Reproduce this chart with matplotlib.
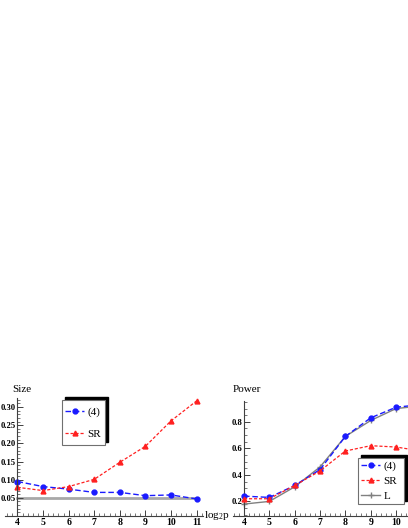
import matplotlib
matplotlib.use('Agg')
from matplotlib import pyplot as plt
from matplotlib.patches import Rectangle
from matplotlib.ticker import MultipleLocator, FixedLocator
import numpy as np

plt.rcParams['font.family'] = ['Liberation Serif', 'DejaVu Serif']
plt.rcParams['mathtext.fontset'] = 'custom'
plt.rcParams['mathtext.rm'] = 'Liberation Serif'
plt.rcParams['mathtext.it'] = 'Liberation Serif:italic'

log2p = [4, 5, 6, 7, 8, 9, 10, 11]

size_4 = [0.095, 0.081, 0.074, 0.065, 0.065, 0.056, 0.058, 0.047]
size_sr = [0.079, 0.070, 0.081, 0.101, 0.148, 0.192, 0.262, 0.317]
nominal = 0.05
size_ticks = [0.05, 0.10, 0.15, 0.20, 0.25, 0.30]

power_4 = [0.24, 0.23, 0.32, 0.44, 0.69, 0.83, 0.91, 0.93]
power_sr = [0.22, 0.22, 0.32, 0.43, 0.58, 0.62, 0.61, 0.58]
power_l = [0.18, 0.20, 0.31, 0.46, 0.69, 0.81, 0.90, 0.92]
power_ticks = [0.2, 0.4, 0.6, 0.8]
power_xticks = [4, 5, 6, 7, 8, 9, 10]  # 11 falls off the cropped figure

W, H = 408, 528

def px(x0, y_top, x1, y_bot):
    # pixel box (from top-left) -> figure fraction rect
    return [x0 / W, (H - y_bot) / H, (x1 - x0) / W, (y_bot - y_top) / H]

fig = plt.figure(figsize=(W / 100, H / 100), dpi=100)

BLUE = '#1a1aff'
RED = '#ff2020'
GRAY = '#808080'
AX = '#404040'

def style(ax, xticks, yticks, yminor, yfmt):
    for s in ['top', 'right']:
        ax.spines[s].set_visible(False)
    ax.spines['left'].set_position(('data', 4))
    ax.spines['left'].set_color(AX)
    ax.spines['bottom'].set_color(AX)
    ax.spines['left'].set_linewidth(0.8)
    ax.spines['bottom'].set_linewidth(0.8)
    ax.set_xticks(xticks)
    ax.xaxis.set_minor_locator(MultipleLocator(0.2))
    ax.yaxis.set_major_locator(FixedLocator(yticks))
    ax.yaxis.set_minor_locator(MultipleLocator(yminor))
    ax.yaxis.set_major_formatter(plt.FormatStrFormatter(yfmt))
    ax.tick_params(which='major', direction='in', length=4, width=0.7, color=AX, pad=1.5)
    ax.tick_params(which='minor', direction='in', length=2, width=0.5, color=AX)
    ax.tick_params(axis='x', labelsize=7)
    ax.tick_params(axis='y', labelsize=6.2, pad=1)
    for t in ax.get_xticklabels() + ax.get_yticklabels():
        t.set_fontweight('bold')
    ax.patch.set_alpha(0)

def legend_box(x0, y_top, x1, y_bot):
    sh = 3
    fig.patches.append(Rectangle(((x0 + sh) / W, (H - y_bot + sh) / H), (x1 - x0) / W, (y_bot - y_top) / H,
                                 transform=fig.transFigure, facecolor='black', edgecolor='black', zorder=5))
    fig.patches.append(Rectangle((x0 / W, (H - y_bot) / H), (x1 - x0) / W, (y_bot - y_top) / H,
                                 transform=fig.transFigure, facecolor='white', edgecolor='#707070', lw=0.8, zorder=6))

# ***** Size *****
ax1 = fig.add_axes(px(4.7, 398, 203, 516))
ax1.set_xlim(3.5, 11.25)
ax1.set_ylim(0, 0.325)
ax1.plot([4, 11], [nominal, nominal], color='#a8a8a8', lw=2, zorder=1)
l1, = ax1.plot(log2p, size_4, '--o', color=BLUE, lw=1.0, ms=3.5, dashes=(4, 2), label='(4)')
l2, = ax1.plot(log2p, size_sr, '--^', color=RED, lw=0.9, ms=3.5, dashes=(2.5, 1.5), label='SR')
style(ax1, log2p, size_ticks, 0.01, '%.2f')

legend_box(62, 400, 105, 445)
leg1 = fig.legend(handles=[l1, l2], loc='center left', bbox_to_anchor=(63 / W, (H - 423) / H),
                  frameon=False, fontsize=8, handlelength=1.7, labelspacing=1.1, handletextpad=0.3,
                  borderaxespad=0, borderpad=0.2)
leg1.set_zorder(7)

fig.text(12 / W, (H - 389) / H, 'Size', fontsize=8, va='center', ha='left')
fig.text(204 / W, (H - 516) / H, r'$\mathrm{log}_{2}\mathrm{p}$', fontsize=8, va='center', ha='left')

# ***** Power *****
ax2 = fig.add_axes(px(232.6, 400.6, 429, 516))
ax2.set_xlim(3.55, 11.3)
ax2.set_ylim(0.09, 0.96)
l3, = ax2.plot(log2p, power_4, '--o', color=BLUE, lw=1.0, ms=3.5, dashes=(4, 2), label='(4)', zorder=3)
l4, = ax2.plot(log2p, power_sr, '--^', color=RED, lw=0.9, ms=3.5, dashes=(2.5, 1.5), label='SR', zorder=3)
l5, = ax2.plot(log2p, power_l, '-+', color=GRAY, lw=1.0, ms=4, label='L', zorder=2)
style(ax2, power_xticks, power_ticks, 0.05, '%.1f')

legend_box(358, 458, 404, 504)
leg2 = fig.legend(handles=[l3, l4, l5], loc='center left', bbox_to_anchor=(359 / W, (H - 481) / H),
                  frameon=False, fontsize=8, handlelength=1.7, labelspacing=0.45, handletextpad=0.3,
                  borderaxespad=0, borderpad=0.2)
leg2.set_zorder(7)

fig.text(233 / W, (H - 390) / H, 'Power', fontsize=8, va='center', ha='left')

plt.savefig('out.png', dpi=100)
plt.close()
